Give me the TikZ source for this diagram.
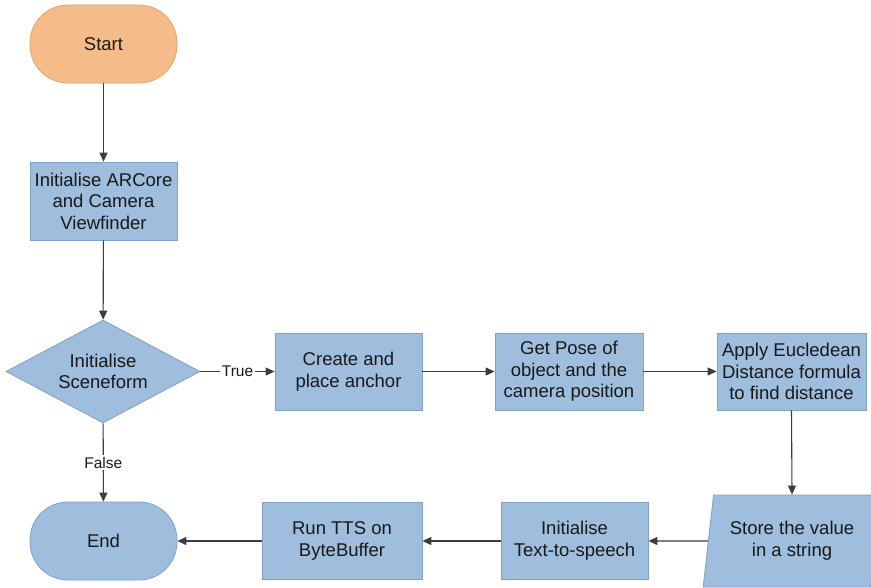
\documentclass[tikz,border=0pt]{standalone}
\usepackage{fontspec}
\setmainfont{Liberation Sans}
\usetikzlibrary{shapes.geometric, arrows.meta}
\definecolor{peach}{RGB}{245, 188, 137}
\definecolor{peachline}{RGB}{226, 162, 108}
\definecolor{steel}{RGB}{159, 189, 221}
\definecolor{steelline}{RGB}{126, 160, 199}
\definecolor{ink}{RGB}{25, 25, 25}
\definecolor{wire}{RGB}{60, 60, 60}
\def\boxw{147pt}
\def\boxh{77pt}

\begin{document}
\begin{tikzpicture}[x=1pt, y=-1pt, line width=1.1pt,
        every node/.style={font=\fontsize{18.5}{21.6}\selectfont, text=ink, align=center},
        block/.style={draw=steelline, fill=steel, line width=0.8pt, minimum width=\boxw, minimum height=\boxh, inner sep=0pt},
        terminal/.style={block, minimum height=78pt, rounded corners=38pt},
        decision/.style={diamond, aspect=1.88, draw=steelline, fill=steel, line width=0.8pt, minimum width=194pt, minimum height=103pt, inner sep=0pt},
        io/.style={trapezium, trapezium left angle=78, trapezium right angle=102, trapezium stretches=true,
                   draw=steelline, fill=steel, line width=0.8pt, minimum width=178pt, minimum height=92pt, inner sep=0pt},
        flow/.style={draw=wire, -{Triangle[length=9pt, width=8pt]}},
        tag/.style={font=\fontsize{15.5}{18}\selectfont, fill=white, inner sep=1.5pt}]

                 \clip (0, 0) rectangle (871, 587);
                 \fill[white] (0, 0) rectangle (871, 587);

                 % left column
                 \node[terminal, draw=peachline, fill=peach] (start) at (103.5, 44) {Start};
                 \node[block, minimum height=78pt] (init) at (103.5, 201) {Initialise ARCore\\and Camera\\Viewfinder};
                 \node[decision] (scene) at (103, 371.5) {Initialise\\Sceneform};
                 \node[terminal] (end) at (103.5, 541) {End};

                 % top row
                 \node[block] (create) at (348.5, 371.5) {Create and\\place anchor};
                 \node[block, minimum width=148pt] (pose) at (569, 371.5) {Get Pose of\\object and the\\camera position};
                 \node[block, minimum width=149pt] (apply) at (791.5, 371.5) {Apply Eucledean\\Distance formula\\to find distance};

                 % bottom row
                 \node[io] (store) at (792, 541) {Store the value\\in a string};
                 \node[block] (tts) at (574.5, 541) {Initialise\\Text-to-speech};
                 \node[block, minimum width=160pt] (run) at (342, 541) {Run TTS on\\ByteBuffer};

                 \draw[flow] (start) -- (init);
                 \draw[flow] (init) -- (scene);
                 \draw[flow] (scene) -- node[tag] {True} (create);
                 \draw[flow] (scene) -- node[tag] {False} (end);
                 \draw[flow] (create) -- (pose);
                 \draw[flow] (pose) -- (apply);
                 \draw[flow] (apply.south) -- (store.north);
                 \draw[flow] (store) -- (tts);
                 \draw[flow] (tts) -- (run);
                 \draw[flow] (run) -- (end);

             \end{tikzpicture}
\end{document}
